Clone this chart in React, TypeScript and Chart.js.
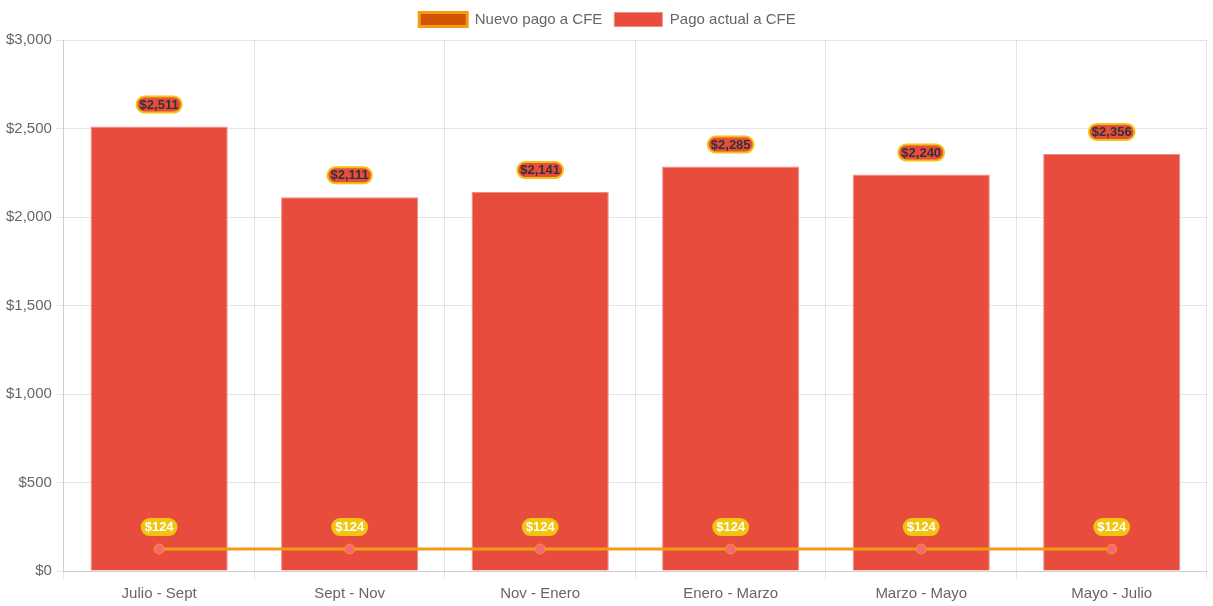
import React, { useEffect, useRef } from "react";
import { Chart, registerables } from "chart.js";

Chart.register(...registerables);

const categories = ["Julio - Sept", "Sept - Nov", "Nov - Enero", "Enero - Marzo", "Marzo - Mayo", "Mayo - Julio"];
const nuevoPago = [124, 124, 124, 124, 124, 124];
const pagoActual = [2511, 2111, 2141, 2285, 2240, 2356];
const yTicksMax = 3000;
const yStep = 500;

const fmt = (v: number) => "$" + v.toLocaleString("en-US");

const legendSpacer = {
  id: "legendSpacer",
  beforeInit(chart: any) {
    const orig = chart.legend.fit;
    chart.legend.fit = function () {
      orig.bind(chart.legend)();
      this.height += 3;
    };
  },
};

const labelPlugin = {
  id: "valueLabels",
  afterDatasetsDraw(chart: any) {
    const ctx = chart.ctx;
    ctx.save();
    ctx.font = "bold 13px Arial, 'Liberation Sans', sans-serif";
    ctx.textAlign = "center";
    ctx.textBaseline = "middle";
    const drawLabel = (x: number, y: number, text: string, bg: string, border: string, color: string) => {
      const w = ctx.measureText(text).width + 6;
      const h = 16;
      const r = 8;
      ctx.beginPath();
      ctx.roundRect(x - w / 2, y - h / 2, w, h, r);
      ctx.fillStyle = bg;
      ctx.fill();
      ctx.lineWidth = 2;
      ctx.strokeStyle = border;
      ctx.stroke();
      ctx.fillStyle = color;
      ctx.fillText(text, x, y + 0.5);
    };
    const barMeta = chart.getDatasetMeta(1);
    barMeta.data.forEach((el: any, i: number) => {
      drawLabel(el.x, el.y - 22, fmt(pagoActual[i]), "#e74c3c", "#f1c40f", "#333333");
    });
    const lineMeta = chart.getDatasetMeta(0);
    lineMeta.data.forEach((el: any, i: number) => {
      drawLabel(el.x, el.y - 22, fmt(nuevoPago[i]), "#f1c40f", "#f1c40f", "#ffffff");
    });
    ctx.restore();
  },
};

export default function App() {
  const ref = useRef<HTMLCanvasElement>(null);
  useEffect(() => {
    document.body.style.margin = "0";
    Chart.defaults.font.size = 15;
    Chart.defaults.font.family = "Arial, 'Liberation Sans', sans-serif";
    Chart.defaults.color = "#666";
    const chart = new Chart(ref.current!, {
      type: "bar",
      data: {
        labels: categories,
        datasets: [
          {
            type: "line",
            label: "Nuevo pago a CFE",
            data: nuevoPago,
            backgroundColor: "#d35400",
            borderColor: "#f39c12",
            borderWidth: 3,
            pointBackgroundColor: "#f7667a",
            pointBorderColor: "#f39c12",
            pointBorderWidth: 1,
            pointRadius: 5,
            fill: false,
            tension: 0,
          } as any,
          {
            type: "bar",
            label: "Pago actual a CFE",
            data: pagoActual,
            backgroundColor: "#e74c3c",
            borderColor: "rgba(240,140,130,1)",
            borderWidth: 1,
          },
        ],
      },
      options: {
        animation: false,
        responsive: true,
        maintainAspectRatio: false,
        layout: { padding: { left: 2, bottom: -3 } },
        plugins: {
          legend: {
            labels: { boxWidth: 48, boxHeight: 14, padding: 12, font: { size: 15 } },
          },
          tooltip: { enabled: false },
        },
        scales: {
          y: {
            min: 0,
            max: yTicksMax,
            ticks: { stepSize: yStep, padding: 4, callback: (v: any) => fmt(Number(v)) },
          },
          x: { ticks: { padding: 6 } },
        },
      },
      plugins: [legendSpacer, labelPlugin],
    });
    return () => chart.destroy();
  }, []);
  return (
    <div style={{ width: 1213, height: 606, position: "relative" }}>
      <canvas ref={ref} />
    </div>
  );
}
